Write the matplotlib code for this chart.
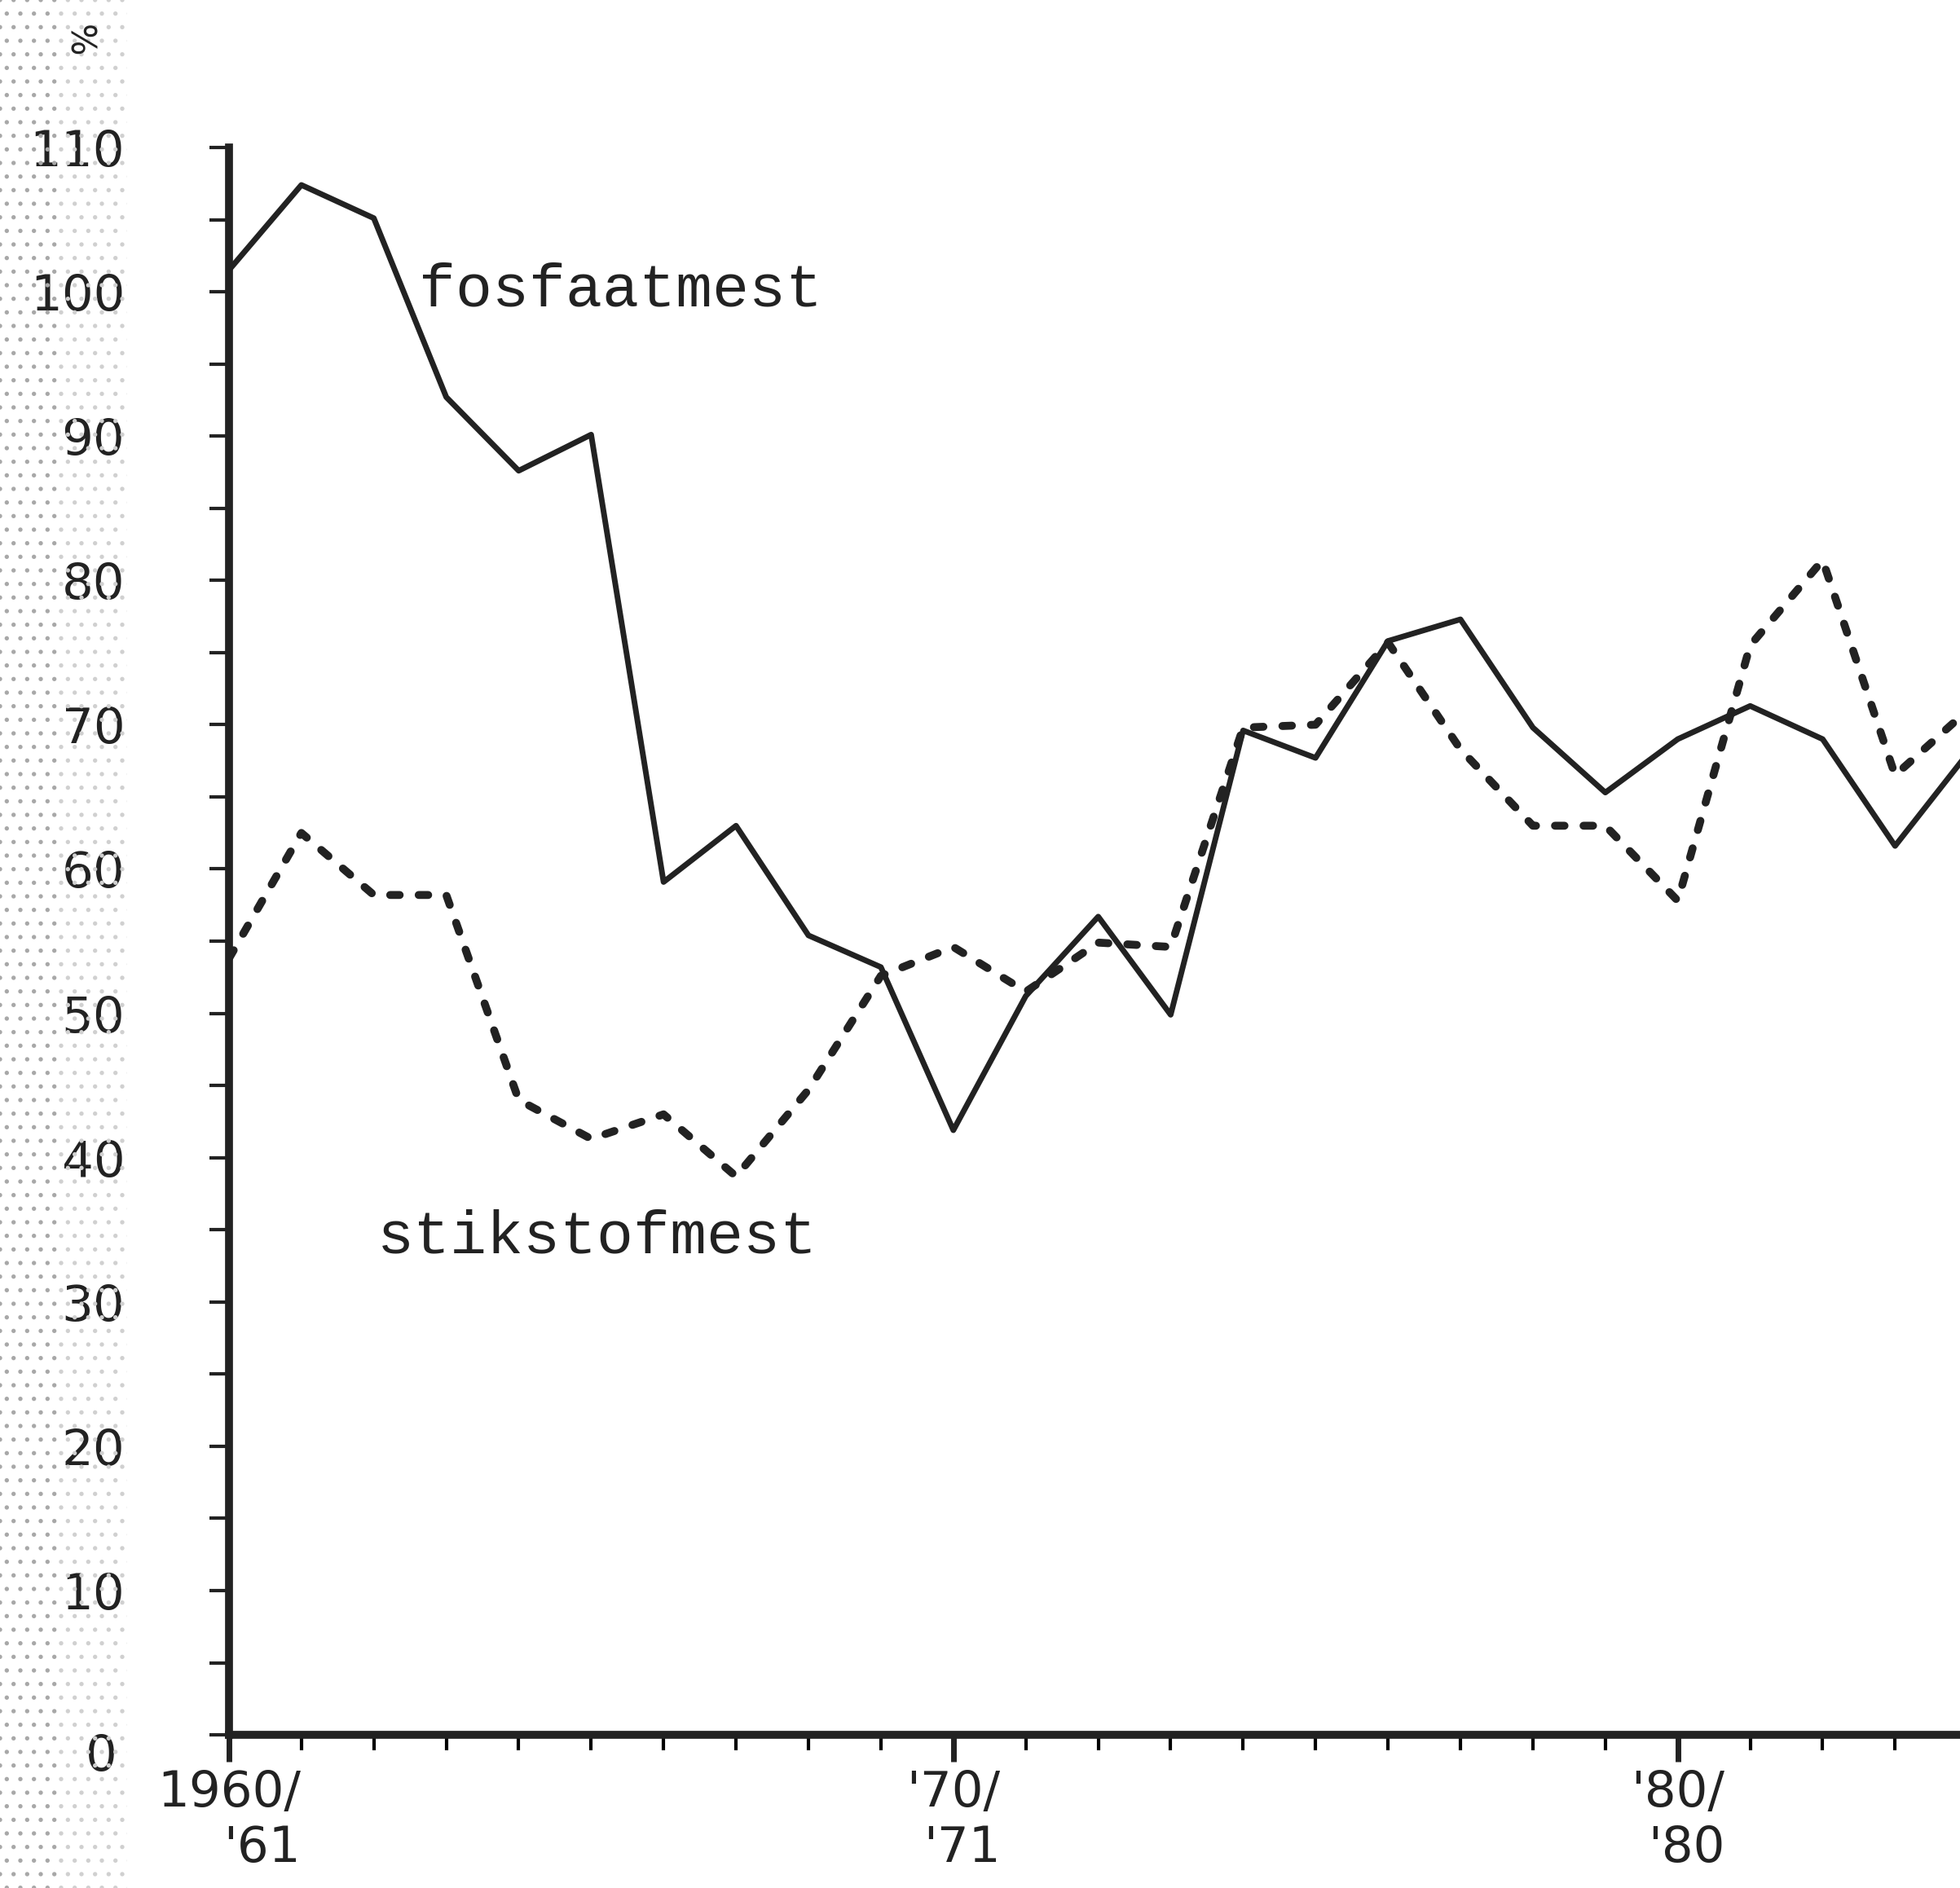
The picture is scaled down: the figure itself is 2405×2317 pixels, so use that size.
import matplotlib
matplotlib.use('Agg')
import matplotlib.pyplot as plt
from matplotlib.patches import Rectangle

# data (% , per season 1960/61 ...)
years = list(range(1960, 1985))
fosfaatmest = [101.5, 107.4, 105.1, 92.7, 87.6, 90.1, 59.1, 63.0, 55.4, 53.2,
               41.9, 51.2, 56.7, 49.9, 69.6, 67.7, 75.8, 77.3, 69.8, 65.3,
               69.0, 71.3, 69.0, 61.6, 68.0]
stikstofmest = [53.8, 62.5, 58.2, 58.2, 44.0, 41.3, 43.0, 38.7, 44.7, 52.6,
                54.6, 51.5, 54.9, 54.6, 69.8, 70.0, 75.7, 68.3, 63.0, 63.0,
                57.8, 75.5, 81.4, 66.5, 71.0]

decades = [1960, 1970, 1980]
decade_labels = ["1960/\n'61", "'70/\n'71", "'80/\n'80"]
y_major = list(range(0, 111, 10))
y_labels = [''] + [str(v) for v in y_major[1:]]
y_minor = list(range(5, 110, 10))

ink = '#222222'
plt.rcParams['hatch.linewidth'] = 1.4

fig = plt.figure(figsize=(24.05, 23.17), dpi=100)
ax = fig.add_axes([0.1168, 0.0811, 0.924, 0.8408])

# scanned-paper stipple on the left edge, fading to the right
fig.patches.append(Rectangle((0, 0), 0.03, 1, transform=fig.transFigure,
                             fill=False, hatch='.', edgecolor='#a8a8a8', lw=0))
fig.patches.append(Rectangle((0.03, 0), 0.035, 1, transform=fig.transFigure,
                             fill=False, hatch='.', edgecolor='#d0d0d0', lw=0))

ax.plot(years, fosfaatmest, color=ink, lw=5, solid_joinstyle='round')
ax.plot(years, stikstofmest, color=ink, lw=7, linestyle=(0, (1.2, 2.4)),
        dash_capstyle='round')

ax.set_xlim(1960, 1985)
ax.set_ylim(0, 110)

for side in ['top', 'right']:
    ax.spines[side].set_visible(False)
for side in ['left', 'bottom']:
    ax.spines[side].set_linewidth(7)
    ax.spines[side].set_color(ink)

ax.set_yticks(y_major, labels=y_labels)
ax.set_yticks(y_minor, minor=True)
ax.tick_params(axis='y', which='both', direction='out', length=17, width=3,
               pad=75, labelsize=44, colors=ink)

ax.set_xticks(decades, labels=decade_labels)
ax.set_xticks([y for y in years if y not in decades], minor=True)
ax.tick_params(axis='x', which='major', direction='out', length=24, width=5,
               pad=6, labelsize=44, colors=ink)
ax.tick_params(axis='x', which='minor', direction='out', length=14, width=3)
for lbl in ax.get_xticklabels():
    lbl.set_multialignment('right')
    lbl.set_linespacing(1.2)

# the zero label sits lower and further left than the others
ax.annotate('0', xy=(0, 0), xycoords=('axes fraction', 'data'),
            xytext=(-99, -20), textcoords='offset points',
            ha='right', va='center', fontsize=44, color=ink)

ax.text(1962.62, 99.0, 'fosfaatmest', family='Liberation Mono', fontsize=54,
        color=ink, va='baseline')
ax.text(1962.05, 33.4, 'stikstofmest', family='Liberation Mono', fontsize=54,
        color=ink, va='baseline')

fig.text(96 / 2405, 1 - 50 / 2317, '%', rotation=-90, fontsize=30,
         ha='center', va='center', color=ink)

fig.savefig('out.png', dpi=100)
